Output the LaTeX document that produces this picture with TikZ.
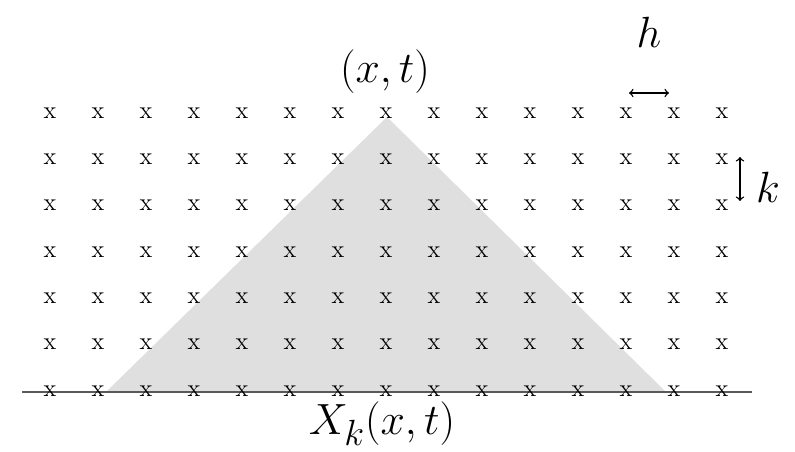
\documentclass[tikz,border=0pt]{standalone}
\tikzset{
  gridpt/.style={inner sep=0pt,font=\fontsize{14}{14}\selectfont},
  lab/.style={inner sep=0pt,font=\fontsize{24.88}{30}\selectfont},
  gap/.style={<->,line width=0.8pt},
}
\begin{document}
\begin{tikzpicture}[x=0.02cm,y=-0.02cm]
  \useasboundingbox (0,0) rectangle (795,452);
  % shaded domain of dependence
  \coordinate (apex) at (387,117);
  \coordinate (bl) at (106,392);
  \coordinate (br) at (666,392);
  \fill[gray!25] (apex) -- (bl) -- (br) -- cycle;
  % initial line
  \coordinate (L) at (22,392);
  \coordinate (R) at (752,392);
  \draw[gray!70!black,line width=1.7pt] (L) -- (R);
  % mesh points
  \foreach \i in {0,...,14}
    \foreach \j in {0,...,6}
      \node[gridpt] (p-\i-\j) at ({50+48*\i},{113+46.3*\j}) {x};
  % labels
  \node[lab] (xt) at (385,72) {$(x,t)$};
  \node[lab] (Xk) at (382,424) {$X_k(x,t)$};
  \node[lab] (h) at (649,32) {$h$};
  \node[lab] (k) at (768,187) {$k$};
  % mesh widths
  \coordinate (ha) at (629,93);
  \coordinate (hb) at (669,93);
  \draw[gap] (ha) -- (hb);
  \coordinate (ka) at (740,157);
  \coordinate (kb) at (740,201);
  \draw[gap] (ka) -- (kb);
\end{tikzpicture}
\end{document}
